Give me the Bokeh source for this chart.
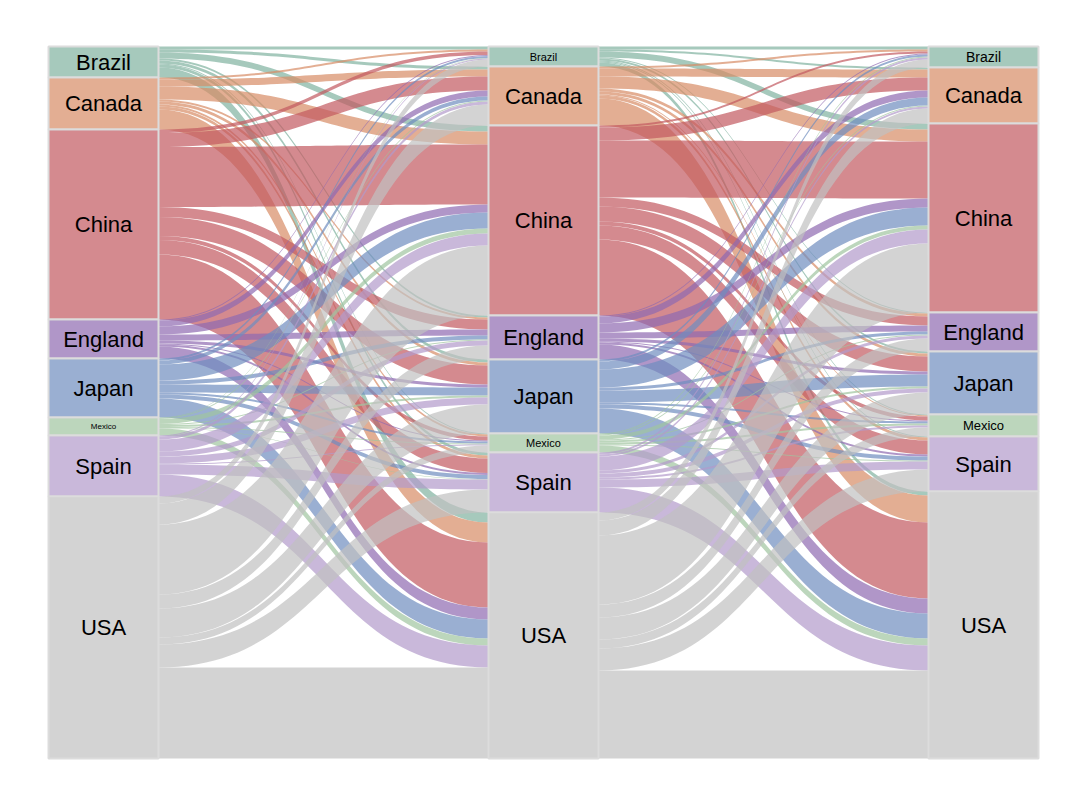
import numpy as np
from bokeh.plotting import figure
from bokeh.models import Range1d, ColumnDataSource
from bokeh.embed import file_html
from bokeh.resources import INLINE
from bokeh.core.properties import value

# ---------------- data ----------------
countries = ["Brazil", "Canada", "China", "England", "Japan", "Mexico", "Spain", "USA"]

# flows from stage 1 to stage 2 (one list per origin, values per destination in `countries` order)
s1_brazil  = [3, 3, 6, 2, 3, 1, 3, 10]
s1_canada  = [2, 7, 13, 2, 3, 2, 3, 20]
s1_china   = [3.5, 14, 60, 10, 19, 4, 14.5, 65]
s1_england = [1, 6, 8, 6, 3, 1, 2, 12]
s1_japan   = [2, 4, 16, 4, 8, 2, 4, 19]
s1_mexico  = [0.5, 1, 5, 1, 2, 1, 0.5, 7]
s1_spain   = [1, 3, 12, 5, 7, 1, 10, 22]
s1_usa     = [7, 21, 70, 14, 29, 7, 23, 91]

# flows from stage 2 to stage 3
s2_brazil  = [3, 2, 6, 1, 2, 1, 1, 4]
s2_canada  = [2, 8, 12, 3, 3, 1, 3, 27]
s2_china   = [2, 13, 57, 9, 15, 4, 14, 76]
s2_england = [1, 7, 9, 6, 3, 1, 2, 15]
s2_japan   = [2, 8, 18, 3, 12, 2, 4, 25]
s2_mexico  = [1, 1, 4, 1, 2, 2, 1, 7]
s2_spain   = [2, 2, 14, 3, 4, 2, 8, 25]
s2_usa     = [8, 15, 69, 13, 22, 9, 22, 88]

# ---------------- style ----------------
colors = ["#80b29f", "#d78b65", "#c2595f", "#8e69b0", "#6f8dbf", "#9fc49f", "#b29aca", "#c0c0c0"]
ALPHA = 0.7
label_px = [
    [22, 22, 22, 22, 22, 8, 22, 22],
    [11, 22, 22, 22, 22, 11, 22, 22],
    [14, 22, 22, 22, 22, 13, 22, 22],
]

M1 = np.array([s1_brazil, s1_canada, s1_china, s1_england, s1_japan, s1_mexico, s1_spain, s1_usa], float)
M2 = np.array([s2_brazil, s2_canada, s2_china, s2_england, s2_japan, s2_mexico, s2_spain, s2_usa], float)

stage_sizes = [M1.sum(axis=1), M1.sum(axis=0), M2.sum(axis=0)]
total = stage_sizes[0].sum()

W, H = 1080, 810
half_w = 0.125              # node half width in stage units
px_per_stage = 440.0
x0_px = 103.0
top_px, bot_px = 46.0, 758.0
unit = total / (bot_px - top_px)

p = figure(width=W, height=H, output_backend="svg", toolbar_location=None,
           x_range=Range1d(-x0_px / px_per_stage, (W - x0_px) / px_per_stage),
           y_range=Range1d(total + (H - bot_px) * unit, -top_px * unit),
           x_axis_location=None, y_axis_location=None, min_border=0)
p.grid.visible = False
p.outline_line_color = None
p.background_fill_color = "white"
p.border_fill_color = "white"

node_top = []
for s in range(3):
    sizes = stage_sizes[s]
    node_top.append(np.concatenate([[0], np.cumsum(sizes)[:-1]]))


def ribbon(xs, xt, ys0, ys1, yt0, yt1, n=48):
    t = np.linspace(0, 1, n)
    xm = (xs + xt) / 2
    bx = (1 - t) ** 3 * xs + 3 * (1 - t) ** 2 * t * xm + 3 * (1 - t) * t ** 2 * xm + t ** 3 * xt
    k = 3 * (1 - t) * t ** 2 + t ** 3
    top = ys0 + (yt0 - ys0) * k
    bot = ys1 + (yt1 - ys1) * k
    return list(bx) + list(bx[::-1]), list(top) + list(bot[::-1])


fx, fy, fc = [], [], []
for g, M in enumerate([M1, M2]):
    src_top = node_top[g]
    tgt_top = node_top[g + 1]
    src_pos = np.zeros((8, 8))
    tgt_pos = np.zeros((8, 8))
    for i in range(8):
        acc = src_top[i]
        for j in range(8):
            src_pos[i, j] = acc
            acc += M[i, j]
    for j in range(8):
        acc = tgt_top[j]
        for i in range(8):
            tgt_pos[i, j] = acc
            acc += M[i, j]
    xs = g + half_w
    xt = g + 1 - half_w
    for i in range(8):
        for j in range(8):
            v = M[i, j]
            if v <= 0:
                continue
            rx, ry = ribbon(xs, xt, src_pos[i, j], src_pos[i, j] + v, tgt_pos[i, j], tgt_pos[i, j] + v)
            fx.append(rx)
            fy.append(ry)
            fc.append(colors[i])

p.patches(xs=fx, ys=fy, fill_color=fc, fill_alpha=ALPHA, line_color=None)

for s in range(3):
    sizes = stage_sizes[s]
    tops = node_top[s]
    src = ColumnDataSource(dict(
        left=[s - half_w] * 8, right=[s + half_w] * 8,
        top=list(tops), bottom=list(tops + sizes),
        color=colors, ymid=list(tops + sizes / 2), x=[s] * 8,
        name=countries, fs=[f"{v}px" for v in label_px[s]]))
    p.quad(left="left", right="right", top="top", bottom="bottom", source=src,
           fill_color="color", fill_alpha=ALPHA, line_color="#dcdcdc", line_width=2)
    p.text(x="x", y="ymid", text="name", source=src, text_align="center",
           text_baseline="middle", text_font=value("Liberation Sans"),
           text_font_size="fs", text_color="black")

open("out.html", "w").write(file_html(p, INLINE))
